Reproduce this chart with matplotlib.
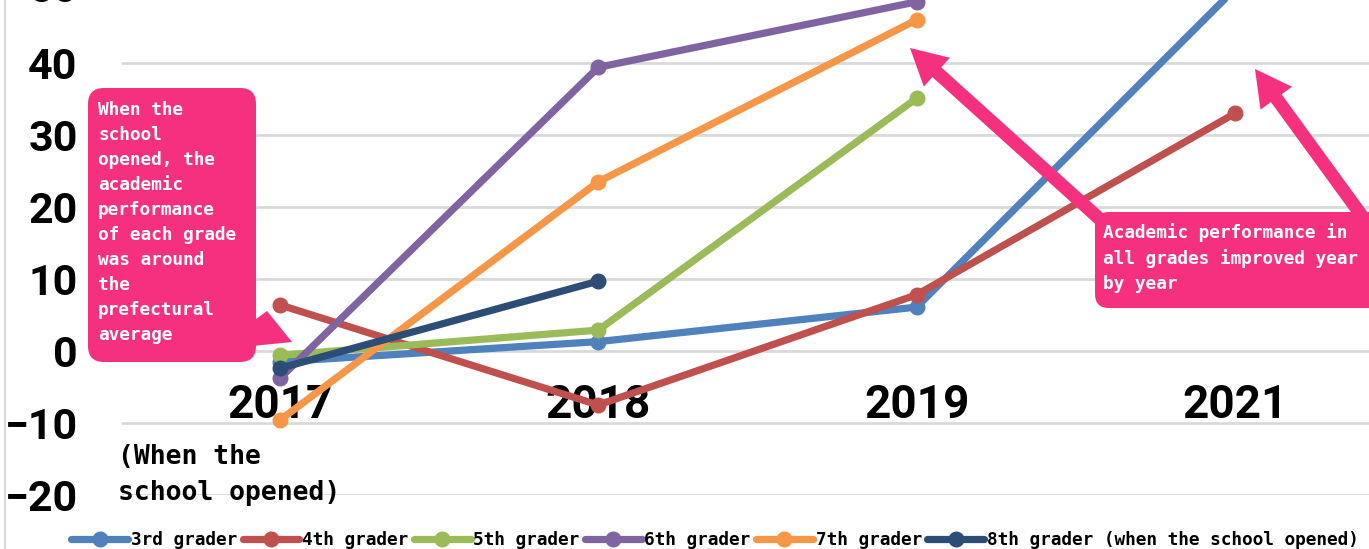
import matplotlib.pyplot as plt
from matplotlib.patches import FancyBboxPatch, FancyArrowPatch, Polygon
from matplotlib.lines import Line2D
from matplotlib.transforms import Affine2D

years = ['2017', '2018', '2019', '2021']
series_names = ['3rd grader', '4th grader', '5th grader', '6th grader',
                '7th grader', '8th grader (when the school opened)']
grade3 = [-1.5, 1.3, 6.1, 50.3]
grade4 = [6.4, -7.5, 7.8, 33.0]
grade5 = [-0.6, 2.9, 35.1]
grade6 = [-3.8, 39.4, 48.5]
grade7 = [-9.6, 23.5, 46.0]
grade8 = [-2.4, 9.7]
colors = ['#4F81BD', '#C0504D', '#9BBB59', '#8064A2', '#F79646', '#2C4D75']
yticks = [-20, -10, 0, 10, 20, 30, 40]

W, H = 1369, 549
fig = plt.figure(figsize=(W / 100, H / 100), dpi=100)
# pixel transform, y pointing down like the image
px = Affine2D().scale(1 / W, -1 / H).translate(0, 1) + fig.transFigure

ax = fig.add_axes([122 / W, 1 - 495 / H, (W - 122) / W, 495 / H])
ax.set_xlim(-0.496, 3.421)
ax.set_ylim(-20, 48.75)

mono = 'DejaVu Sans Mono'
num_font = 'Roboto'
pink = '#F4307F'

data = [grade3, grade4, grade5, grade6, grade7, grade8]
for name, vals, c in zip(series_names, data, colors):
    ax.plot(range(len(vals)), vals, color=c, lw=5.2, marker='o', ms=10.5,
            solid_capstyle='round', label=name, zorder=3, clip_on=False)

ax.set_yticks(yticks)
ax.set_yticklabels([str(v).replace('-', '\u2212') for v in yticks],
                   fontsize=31, fontweight='bold', family=num_font)
ax.tick_params(axis='y', length=0, pad=32)
ax.set_xticks([])
ax.grid(axis='y', color='#D9D9D9', lw=2)
ax.set_axisbelow(True)
for s in ax.spines.values():
    s.set_visible(False)

# cut-off 50 label at the top
ax.text(-0.496 - 44 / 318.3, 50, '50', ha='right', va='center',
        fontsize=31, fontweight='bold', family=num_font, clip_on=False)

for i, y in enumerate(years):
    ax.text(i, -7.5, y, ha='center', va='center', fontsize=33,
            fontweight='bold', family=num_font, zorder=2)

fig.text(118, 444, '(When the\nschool opened)', transform=px, ha='left',
         va='top', fontsize=19, fontweight='bold', family=mono,
         linespacing=1.5)

# left callout box
fig.patches.append(FancyBboxPatch((88, 88), 168, 274, transform=px,
                   boxstyle='round,pad=0,rounding_size=16', fc=pink, ec='none'))
fig.patches.append(Polygon([(252, 322), (267, 311), (292, 342), (252, 346)],
                   closed=True, transform=px, fc=pink, ec='none'))
fig.text(98, 101, 'When the\nschool\nopened, the\nacademic\nperformance\n'
         'of each grade\nwas around\nthe\nprefectural\naverage',
         transform=px, ha='left', va='top', color='white', fontsize=12.8,
         fontweight='bold', family=mono, linespacing=1.5)

# right callout box with arrows
fig.patches.append(FancyBboxPatch((1095, 212), 300, 96, transform=px,
                   boxstyle='round,pad=0,rounding_size=14', fc=pink, ec='none'))
fig.text(1103, 223, 'Academic performance in\nall grades improved year\nby year',
         transform=px, ha='left', va='top', color='white', fontsize=12.8,
         fontweight='bold', family=mono, linespacing=1.5)
style = 'simple,head_width=28,head_length=26,tail_width=9.5'
for (x0, y0), (x1, y1) in [((1103, 222), (910, 48)), ((1362, 216), (1255, 69))]:
    fig.patches.append(FancyArrowPatch((x0, y0), (x1, y1), transform=px,
                       arrowstyle=style, mutation_scale=1, fc=pink, ec='none',
                       shrinkA=0, shrinkB=0))

# outer border on the left
fig.add_artist(Line2D([5, 5], [0, H], transform=px, color='#D9D9D9', lw=1.5))

fig.legend(loc='center', bbox_to_anchor=(715 / W, 1 - 540 / H), ncol=6,
           frameon=False, prop={'family': mono, 'weight': 'bold', 'size': 12.8},
           handlelength=3.2, handletextpad=0.15, columnspacing=0.3,
           borderaxespad=0)

fig.savefig('out.png', dpi=100)
